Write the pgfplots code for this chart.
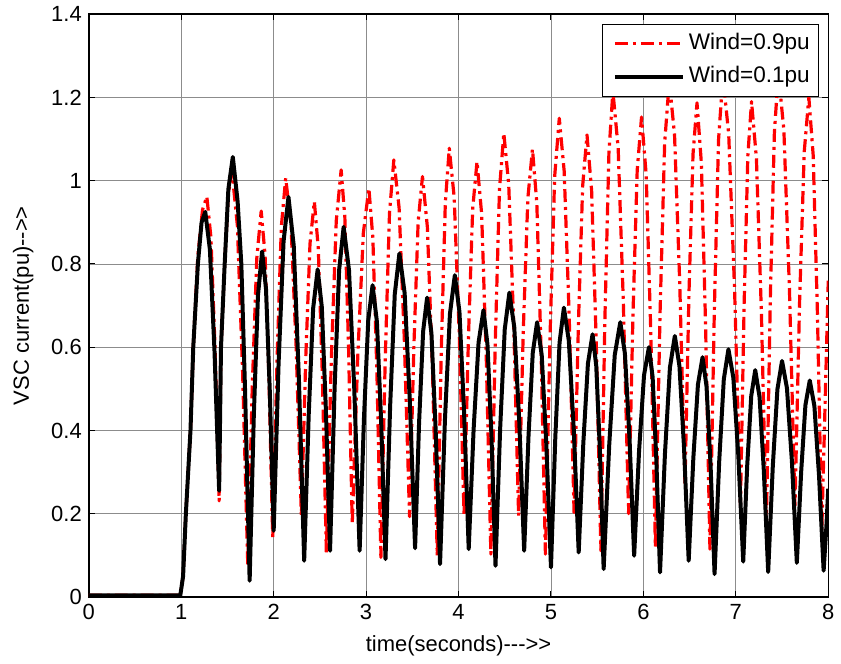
\documentclass[border=0pt]{standalone}
\usepackage{pgfplots}
\pgfplotsset{compat=1.18}
\usepackage{fontspec}
\setmainfont{Liberation Sans}
\pgfplotstableread{
x y
0 0.004
0.99 0.004
1.02 0.05
1.05 0.2
1.10 0.4
1.13 0.6
1.18 0.82
1.23 0.93
1.277 0.962
1.321 0.864
1.366 0.597
1.41 0.231
1.43 0.6
1.47 0.8
1.51 0.97
1.55 1.02
1.607 0.893
1.663 0.548
1.72 0.075
1.768 0.501
1.817 0.813
1.865 0.927
1.907 0.821
1.948 0.533
1.99 0.139
2.037 0.573
2.083 0.89
2.13 1.006
2.187 0.897
2.243 0.601
2.30 0.195
2.347 0.573
2.393 0.849
2.44 0.95
2.483 0.837
2.527 0.529
2.57 0.107
2.623 0.567
2.677 0.903
2.73 1.026
2.77 0.912
2.81 0.601
2.85 0.175
2.91 0.579
2.97 0.874
3.03 0.982
3.073 0.863
3.117 0.539
3.16 0.095
3.207 0.573
3.253 0.922
3.30 1.05
3.357 0.935
3.413 0.622
3.47 0.193
3.517 0.602
3.563 0.901
3.61 1.01
3.663 0.888
3.717 0.555
3.77 0.099
3.813 0.589
3.857 0.947
3.90 1.078
3.953 0.96
4.007 0.637
4.06 0.195
4.107 0.621
4.153 0.932
4.20 1.046
4.25 0.92
4.30 0.575
4.35 0.103
4.397 0.609
4.443 0.979
4.49 1.114
4.543 0.991
4.597 0.655
4.65 0.195
4.70 0.636
4.75 0.958
4.80 1.076
4.847 0.946
4.893 0.59
4.94 0.103
4.99 0.627
5.04 1.01
5.09 1.15
5.143 1.023
5.197 0.677
5.25 0.203
5.297 0.657
5.343 0.988
5.39 1.11
5.44 0.976
5.49 0.611
5.54 0.111
5.583 0.663
5.627 1.067
5.67 1.215
5.727 1.079
5.783 0.708
5.84 0.20
5.887 0.677
5.933 1.025
5.98 1.153
6.03 1.015
6.08 0.637
6.13 0.12
6.18 0.68
6.23 1.09
6.28 1.24
6.337 1.11
6.393 0.755
6.45 0.27
6.493 0.729
6.537 1.064
6.58 1.187
6.627 1.043
6.673 0.651
6.72 0.115
6.767 0.683
6.813 1.098
6.86 1.25
6.923 1.112
6.987 0.735
7.05 0.22
7.09 0.705
7.13 1.06
7.17 1.19
7.223 1.053
7.277 0.68
7.33 0.17
7.373 0.715
7.417 1.114
7.46 1.26
7.52 1.121
7.58 0.74
7.64 0.22
7.69 0.71
7.74 1.069
7.79 1.2
7.837 1.061
7.883 0.68
7.93 0.16
7.97 0.5
8.0 0.76
}\windhigh
\pgfplotstableread{
x y
0 0.004
0.99 0.004
1.02 0.05
1.05 0.2
1.10 0.4
1.13 0.6
1.18 0.8
1.22 0.9
1.26 0.925
1.31 0.835
1.36 0.59
1.41 0.255
1.43 0.6
1.47 0.8
1.51 0.98
1.558 1.057
1.61 0.95
1.65 0.8
1.69 0.5
1.74 0.039
1.785 0.435
1.83 0.724
1.875 0.83
1.917 0.74
1.958 0.495
2.00 0.159
2.053 0.56
2.107 0.854
2.16 0.961
2.217 0.844
2.273 0.524
2.33 0.087
2.379 0.437
2.427 0.693
2.476 0.787
2.521 0.696
2.565 0.449
2.61 0.111
2.659 0.5
2.708 0.785
2.757 0.889
2.815 0.785
2.872 0.5
2.93 0.111
2.977 0.43
3.023 0.664
3.07 0.749
3.117 0.661
3.163 0.42
3.21 0.091
3.26 0.458
3.31 0.727
3.36 0.825
3.417 0.73
3.473 0.471
3.53 0.117
3.573 0.418
3.617 0.638
3.66 0.719
3.707 0.633
3.753 0.399
3.80 0.079
3.853 0.426
3.907 0.68
3.96 0.773
4.01 0.685
4.06 0.444
4.11 0.115
4.163 0.402
4.217 0.612
4.27 0.689
4.313 0.607
4.357 0.382
4.40 0.075
4.45 0.403
4.50 0.643
4.55 0.731
4.603 0.648
4.657 0.421
4.71 0.111
4.757 0.386
4.803 0.586
4.85 0.66
4.90 0.581
4.95 0.366
5.00 0.071
5.047 0.383
5.093 0.611
5.14 0.695
5.193 0.616
5.247 0.401
5.30 0.107
5.35 0.369
5.40 0.561
5.45 0.631
5.49 0.555
5.53 0.349
5.57 0.067
5.63 0.364
5.69 0.581
5.75 0.66
5.80 0.585
5.85 0.38
5.90 0.099
5.953 0.35
6.007 0.533
6.06 0.60
6.10 0.528
6.14 0.33
6.18 0.059
6.233 0.343
6.287 0.551
6.34 0.627
6.39 0.555
6.44 0.357
6.49 0.087
6.54 0.332
6.59 0.51
6.64 0.576
6.683 0.506
6.727 0.316
6.77 0.055
6.82 0.325
6.87 0.523
6.92 0.595
6.973 0.527
7.027 0.34
7.08 0.085
7.123 0.315
7.167 0.483
7.21 0.545
7.257 0.48
7.303 0.303
7.35 0.06
7.40 0.314
7.45 0.499
7.50 0.567
7.553 0.502
7.607 0.325
7.66 0.082
7.707 0.301
7.753 0.461
7.80 0.52
7.85 0.459
7.90 0.292
7.95 0.063
7.98 0.17
8.0 0.26
}\windlow
\begin{document}
\begin{tikzpicture}
\begin{axis}[
  scale only axis,
  width=370.5pt, height=292pt,
  xmin=0, xmax=8, ymin=0, ymax=1.4,
  xtick={0,1,2,3,4,5,6,7,8},
  ytick={0,0.2,0.4,0.6,0.8,1,1.2,1.4},
  /pgf/number format/assume math mode=true,
  font=\fontsize{11}{13}\selectfont,
  tick label style={font=\fontsize{11}{13}\selectfont},
  label style={font=\fontsize{11}{13}\selectfont},
  xlabel style={yshift=-1pt},
  ylabel style={yshift=2pt},
  grid=major,
  major grid style={draw=black!45, line width=0.45pt},
  tick align=inside, tick pos=both,
  major tick length=3pt,
  every tick/.style={black, line width=0.5pt},
  axis line style={line width=0.75pt},
  xlabel={time(seconds)-{}-{}->{}>},
  ylabel={VSC current(pu)-{}->{}>},
  legend cell align=left,
  legend image code/.code={\path (0pt,0pt); \draw[#1] (2.5pt,0pt) -- (36.5pt,0pt);},
  legend style={at={(1,1)}, anchor=north east, xshift=-4.5pt, yshift=-5pt,
    draw=black, line width=0.5pt, fill=white,
    font=\fontsize{11.3}{13}\selectfont,
    inner xsep=2.5pt, inner ysep=2.3pt, row sep=2.5pt,
    nodes={inner sep=2pt, text height=8pt, text depth=2.4pt}},
]
\addplot[red, line width=1.6pt, dash pattern=on 6.5pt off 2.5pt on 1.5pt off 2.5pt, line join=round] table[x=x,y=y] {\windhigh};
\addlegendentry{Wind=0.9pu}
\addplot[black, line width=2pt, line join=round] table[x=x,y=y] {\windlow};
\addlegendentry{Wind=0.1pu}
\end{axis}
\path ([shift={(-44.5pt,-33.5pt)}]current axis.south west) rectangle ([shift={(5.5pt,7pt)}]current axis.north east);
\end{tikzpicture}
\end{document}
